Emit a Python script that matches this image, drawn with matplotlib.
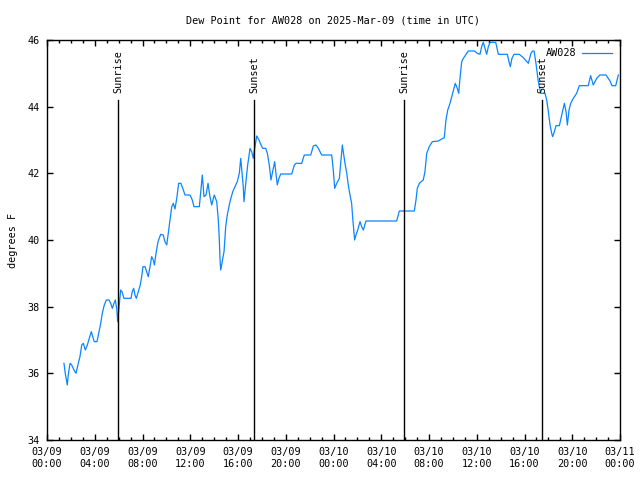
import matplotlib
matplotlib.use("Agg")
import matplotlib.pyplot as plt
import matplotlib.dates as mdates
import pandas as pd

plt.rcParams["font.family"] = "DejaVu Sans Mono"
plt.rcParams["font.size"] = 7.3

# hours after 2025-03-09 00:00 UTC
hours = [1.42, 1.53, 1.70, 1.78, 1.93, 2.07, 2.26, 2.43, 2.62, 2.76, 2.91, 3.04,
         3.21, 3.38, 3.54, 3.71, 3.83, 3.96, 4.19, 4.33, 4.50, 4.63, 4.80, 4.97,
         5.19, 5.34, 5.47, 5.61, 5.72, 5.84, 5.92, 6.06, 6.17, 6.28, 6.45, 7.04,
         7.14, 7.26, 7.37, 7.48, 7.65, 7.81, 7.93, 8.04, 8.21, 8.35, 8.48, 8.63,
         8.77, 8.90, 9.00, 9.13, 9.30, 9.52, 9.74, 9.88, 10.03, 10.16, 10.30, 10.45,
         10.58, 10.72, 10.87, 11.03, 11.22, 11.42, 11.56, 11.98, 12.17, 12.31, 12.76, 12.88,
         13.01, 13.15, 13.32, 13.49, 13.65, 13.80, 14.01, 14.22, 14.35, 14.43, 14.49, 14.55,
         14.68, 14.83, 14.97, 15.10, 15.33, 15.56, 15.75, 15.94, 16.11, 16.23, 16.34, 16.44,
         16.50, 16.65, 16.81, 17.01, 17.15, 17.28, 17.42, 17.57, 17.76, 17.93, 18.07, 18.32,
         18.46, 18.62, 18.76, 18.90, 19.07, 19.18, 19.29, 19.43, 19.58, 20.50, 20.72, 20.86,
         21.34, 21.55, 22.09, 22.31, 22.53, 22.73, 23.01, 23.85, 23.98, 24.10, 24.27, 24.49,
         24.74, 24.82, 24.96, 25.11, 25.24, 25.38, 25.52, 25.60, 25.71, 25.77, 25.88, 26.03,
         26.22, 26.36, 26.50, 26.72, 29.29, 29.43, 29.51, 30.77, 30.91, 31.02, 31.19, 31.52,
         31.66, 31.81, 32.02, 32.28, 32.78, 33.06, 33.28, 33.42, 33.57, 33.76, 33.98, 34.20,
         34.37, 34.49, 34.60, 34.74, 34.88, 35.07, 35.29, 35.80, 36.05, 36.27, 36.41, 36.55,
         36.69, 36.83, 36.97, 37.11, 37.59, 37.81, 38.56, 38.70, 38.81, 38.95, 39.12, 39.56,
         39.90, 40.32, 40.54, 40.68, 40.80, 40.96, 41.16, 41.36, 41.72, 41.86, 42.00, 42.14,
         42.28, 42.36, 42.50, 42.64, 42.92, 43.12, 43.34, 43.48, 43.59, 43.73, 43.87, 44.09,
         44.37, 44.59, 45.34, 45.54, 45.76, 46.05, 46.32, 46.83, 47.16, 47.33, 47.64, 47.86]

dewpoint = [36.30, 36.00, 35.65, 35.95, 36.30, 36.25, 36.10, 36.00, 36.30, 36.50, 36.85, 36.90,
            36.70, 36.85, 37.05, 37.25, 37.10, 36.95, 36.95, 37.20, 37.50, 37.80, 38.05, 38.20,
            38.20, 38.10, 37.95, 38.10, 38.20, 37.95, 37.55, 38.10, 38.50, 38.45, 38.25, 38.25,
            38.45, 38.55, 38.35, 38.25, 38.45, 38.65, 38.90, 39.20, 39.20, 39.05, 38.90, 39.20,
            39.50, 39.40, 39.25, 39.60, 39.95, 40.17, 40.15, 39.95, 39.85, 40.20, 40.60, 41.00,
            41.10, 40.93, 41.25, 41.70, 41.70, 41.50, 41.35, 41.35, 41.20, 41.00, 41.00, 41.45,
            41.95, 41.30, 41.35, 41.70, 41.30, 41.05, 41.35, 41.15, 40.60, 40.05, 39.45, 39.10,
            39.35, 39.65, 40.40, 40.75, 41.15, 41.45, 41.60, 41.75, 42.00, 42.45, 42.00, 41.60,
            41.15, 41.70, 42.25, 42.75, 42.65, 42.45, 42.80, 43.12, 43.00, 42.85, 42.75, 42.75,
            42.60, 42.25, 41.80, 42.05, 42.35, 42.00, 41.65, 41.85, 41.98, 41.98, 42.25, 42.30,
            42.30, 42.55, 42.55, 42.82, 42.85, 42.75, 42.55, 42.55, 42.10, 41.55, 41.70, 41.85,
            42.85, 42.65, 42.30, 42.00, 41.65, 41.35, 41.10, 40.70, 40.25, 40.00, 40.15, 40.30,
            40.55, 40.40, 40.30, 40.57, 40.57, 40.75, 40.87, 40.87, 41.20, 41.55, 41.70, 41.80,
            42.05, 42.60, 42.80, 42.95, 42.97, 43.03, 43.07, 43.60, 43.90, 44.10, 44.40, 44.70,
            44.55, 44.40, 44.87, 45.35, 45.45, 45.55, 45.67, 45.67, 45.60, 45.57, 45.80, 45.93,
            45.75, 45.57, 45.80, 45.93, 45.93, 45.57, 45.57, 45.35, 45.20, 45.45, 45.57, 45.57,
            45.47, 45.30, 45.60, 45.67, 45.67, 45.30, 44.75, 44.40, 44.40, 44.20, 43.85, 43.45,
            43.20, 43.10, 43.25, 43.43, 43.43, 43.75, 44.10, 43.85, 43.45, 43.90, 44.10, 44.25,
            44.40, 44.63, 44.63, 44.93, 44.65, 44.85, 44.95, 44.95, 44.77, 44.63, 44.63, 44.95]

sun_labels = ["Sunrise", "Sunset", "Sunrise", "Sunset"]
sun_hours = [5.95, 17.34, 29.90, 41.47]

start = pd.Timestamp("2025-03-09 00:00")
times = start + pd.to_timedelta(hours, unit="h")
sun_times = start + pd.to_timedelta(sun_hours, unit="h")

fig = plt.figure(figsize=(6.4, 4.8), dpi=100)
ax = fig.add_axes([47 / 640, 40 / 480, 573 / 640, 400 / 480])

ax.plot(times, dewpoint, color="#0a86ff", lw=0.9, label="AW028")

# sunrise / sunset markers
for t, lab in zip(sun_times, sun_labels):
    ax.plot([t, t], [34, 44.2], color="black", lw=1.0)
    ax.text(t, 44.4, lab, rotation=90, ha="center", va="bottom")

ax.set_xlim(start, start + pd.Timedelta(hours=48))
ax.set_ylim(34, 46)
ax.set_yticks([34, 36, 38, 40, 42, 44, 46])
ax.xaxis.set_major_locator(mdates.HourLocator(byhour=range(0, 24, 4)))
ax.xaxis.set_minor_locator(mdates.HourLocator())
ax.xaxis.set_major_formatter(mdates.DateFormatter("%m/%d\n%H:%M"))

ax.tick_params(which="both", direction="in", top=True, right=True, width=1)
ax.tick_params(which="major", length=4.5, pad=5)
ax.tick_params(which="minor", length=2.5)
for s in ax.spines.values():
    s.set_linewidth(1)

ax.set_title("Dew Point for AW028 on 2025-Mar-09 (time in UTC)", fontsize=7.3, pad=12)
ax.set_ylabel("degrees F", labelpad=7)

leg = ax.legend(loc="upper right", frameon=False, markerfirst=False,
                handlelength=2.9, handletextpad=0.6, borderaxespad=0.4)

fig.savefig("out.png", dpi=100)
